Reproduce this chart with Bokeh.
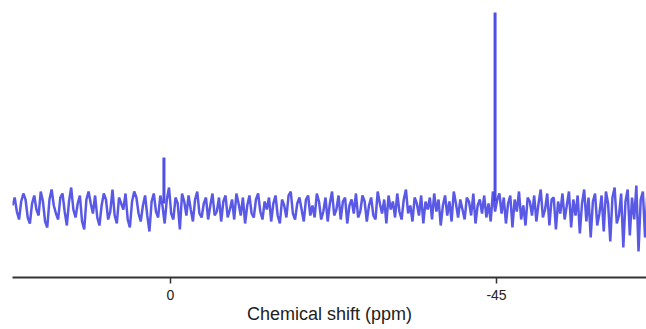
from bokeh.plotting import figure
from bokeh.models import Range1d, FixedTicker
from bokeh.embed import file_html
from bokeh.resources import INLINE

# ---- data ----
ppm_start = 21.8
ppm_step = 0.3
noise = [
    2, 10, -4, -12, 6, 14, 8, -10, -16, 4, 12, -2, -8, 16, 6, -14,
    -20, 8, 18, 2, -6, -12, 10, 14, -4, -18, 6, 20, -2, -10, 4, 12,
    -14, -22, 8, 16, 4, -6, 12, -10, -18, 2, 14, 8, -12, -4, 18, -8,
    -16, 10, 4, -2, 14, -12, -20, 6, 16, 10, -6, -14, 2, 12, -8, -24,
    6, 14, -4, -10, 12, 2, -16, 8, 20, -6, -12, 10, 4, -22, 14, 6,
    -8, 12, -2, -14, 8, 16, -6, -10, 4, 10, -12, 2, 14, -8, -4, 10,
    -14, 6, 12, -10, -2, 8, -12, 14, 4, -8, 10, -16, 2, 12, -6, -10,
    8, 14, -4, -12, 6, -2, 10, -14, 4, 12, -8, -16, 8, 2, -10, 12,
    16, -6, -12, 4, 10, -2, -14, 8, 12, -8, 2, -10, 14, 6, -12, -4,
    10, -14, 4, 16, -8, -2, 12, -12, 6, 10, -16, 2, 8, -6, 14, -10,
    -4, 12, 6, -14, 2, 10, -8, -12, 16, 4, -6, 8, -16, 12, -2, 6,
    -10, 14, -4, -12, 8, 18, -6, 2, -14, 10, 4, -8, 12, -16, 6, -2,
    10, -12, 14, -4, 8, -18, 2, 12, -8, 6, -14, 16, 4, -10, 8, -2,
    -12, 10, 6, -8, 14, -16, 2, 8, -6, 12, -10, 4, -14, 16, -4, 8,
    14, -6, 10, -16, 4, 12, -20, 8, -4, 16, -12, 2, -18, 10, 6, -8,
    12, -14, 4, 18, -10, -2, 14, -18, 8, 10, -22, 6, -6, 14, -12, 2,
    16, -20, 8, -8, 12, -26, 4, 18, -14, 10, -30, 6, 14, -18, -6, 12,
    -24, 16, 4, -34, 10, 20, -16, -8, 14, -40, 6, 18, -28, 10, -12, 22,
    -44, 8, 16, -30, 12, -20, 18, -36, 6, 14, -26, 10, -18, 16, -10, 4,
]
peak_ppm = [0.9, -44.8]
peak_base = [4, 6]
peak_height = [50, 195]

ppm = [ppm_start - ppm_step * i for i in range(len(noise))]

p = figure(width=646, height=329, output_backend="svg", toolbar_location=None,
           x_range=Range1d(21.8, -65.7), y_range=Range1d(-70, 207),
           min_border_left=12, min_border_right=0, min_border_top=0,
           min_border_bottom=52)
p.outline_line_color = None
p.xgrid.visible = False
p.ygrid.visible = False
p.yaxis.visible = False
p.background_fill_color = "white"

blue = "#3c3ce2"
p.line(ppm, noise, line_color=blue, line_width=2.5, line_alpha=0.85)
p.segment(x0=peak_ppm, y0=peak_base, x1=peak_ppm, y1=peak_height,
          line_color=blue, line_width=3, line_alpha=0.9)

ax = p.xaxis[0]
ax.ticker = FixedTicker(ticks=[0, -45])
ax.major_label_overrides = {0: "0", -45: "-45"}
ax.axis_line_width = 2
ax.axis_line_color = "#333333"
ax.major_tick_line_color = "#333333"
ax.major_tick_line_width = 1.5
ax.major_tick_out = 6
ax.major_tick_in = 0
ax.minor_tick_line_color = None
ax.major_label_text_font = "Liberation Sans"
ax.major_label_text_font_size = "14px"
ax.major_label_text_color = "#222222"
ax.major_label_standoff = 6
ax.axis_label = "Chemical shift (ppm)"
ax.axis_label_text_font = "Liberation Sans"
ax.axis_label_text_font_size = "18px"
ax.axis_label_text_font_style = "normal"
ax.axis_label_text_color = "#222222"
ax.axis_label_standoff = 1

open("out.html", "w").write(file_html(p, INLINE))
